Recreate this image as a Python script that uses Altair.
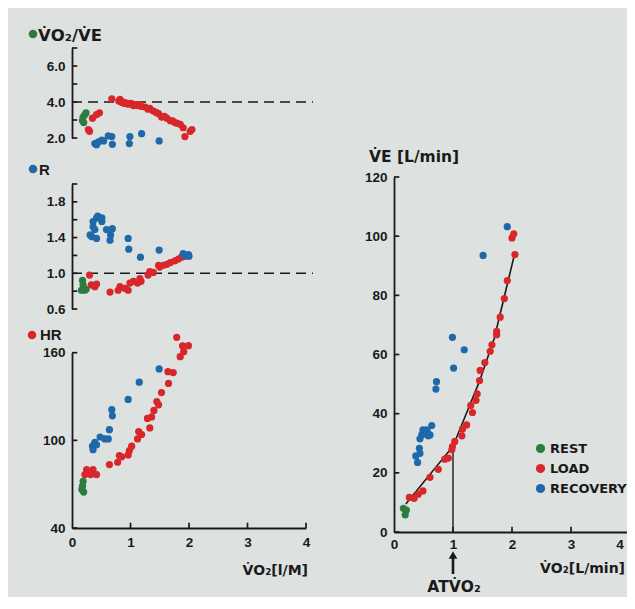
import altair as alt
import pandas as pd

# ---------------- data ----------------
phases = ["REST", "LOAD", "RECOVERY"]
phase_colors = ["#2b7d3f", "#d8272b", "#1f69aa"]

# VO2/VE panel
vv_rest_x = [0.18, 0.19, 0.20, 0.22, 0.24]
vv_rest_y = [2.96, 3.16, 2.86, 3.30, 3.40]
vv_load_x = [0.28, 0.30, 0.35, 0.42, 0.47, 0.68, 0.80, 0.82, 0.85, 0.88, 0.90, 0.93, 0.96, 1.00,
             1.02, 1.05, 1.08, 1.12, 1.16, 1.19, 1.25, 1.30, 1.33, 1.39, 1.44, 1.48, 1.53, 1.58,
             1.62, 1.68, 1.72, 1.76, 1.80, 1.85, 1.90, 1.93, 2.02, 2.05]
vv_load_y = [2.47, 2.37, 3.10, 3.30, 3.40, 4.18, 4.05, 4.14, 3.98, 4.00, 3.92, 3.94, 3.88, 3.92,
             3.90, 3.80, 3.85, 3.80, 3.85, 3.75, 3.72, 3.60, 3.65, 3.50, 3.42, 3.35, 3.16, 3.20,
             3.10, 2.96, 2.95, 2.86, 2.82, 2.76, 2.57, 2.08, 2.37, 2.47]
vv_rec_x = [0.39, 0.42, 0.45, 0.51, 0.54, 0.62, 0.68, 0.69, 0.98, 0.99, 1.19, 1.49]
vv_rec_y = [1.69, 1.63, 1.78, 1.88, 1.84, 2.12, 2.08, 1.65, 1.69, 2.08, 2.24, 1.84]
vv_ref = 4.0

# R panel
r_rest_x = [0.16, 0.18, 0.19, 0.22, 0.24]
r_rest_y = [0.81, 0.92, 0.87, 0.81, 0.82]
r_load_x = [0.30, 0.33, 0.39, 0.42, 0.65, 0.79, 0.82, 0.91, 0.96, 0.99, 1.05, 1.12, 1.16, 1.18,
            1.30, 1.33, 1.39, 1.48, 1.50, 1.56, 1.62, 1.68, 1.76, 1.82, 1.87, 1.93]
r_load_y = [0.98, 0.87, 0.85, 0.88, 0.79, 0.81, 0.85, 0.83, 0.81, 0.89, 0.91, 0.89, 0.94, 0.91,
            0.98, 1.02, 1.01, 1.09, 1.07, 1.09, 1.10, 1.12, 1.14, 1.16, 1.18, 1.19]
r_rec_x = [0.31, 0.34, 0.36, 0.36, 0.39, 0.42, 0.42, 0.44, 0.51, 0.51, 0.59, 0.65, 0.66, 0.69,
           0.96, 0.97, 1.17, 1.49, 1.90, 1.92, 1.99, 2.00]
r_rec_y = [1.43, 1.41, 1.52, 1.58, 1.49, 1.62, 1.39, 1.64, 1.62, 1.58, 1.49, 1.37, 1.43, 1.50,
           1.39, 1.27, 1.18, 1.26, 1.22, 1.20, 1.21, 1.19]
r_ref = 1.0

# HR panel
hr_rest_x = [0.17, 0.18, 0.19, 0.20]
hr_rest_y = [66.4, 68.6, 72.0, 64.6]
hr_load_x = [0.22, 0.25, 0.32, 0.36, 0.42, 0.64, 0.78, 0.81, 0.85, 0.96, 0.98, 1.02, 1.12, 1.14,
             1.19, 1.29, 1.33, 1.36, 1.40, 1.45, 1.48, 1.53, 1.64, 1.65, 1.73, 1.79, 1.85, 1.89,
             1.91, 1.99]
hr_load_y = [76.6, 80.0, 76.6, 80.0, 76.6, 83.4, 85.0, 89.6, 88.7, 90.0, 93.0, 96.0, 101.0, 106.0,
             104.0, 115.0, 108.5, 116.0, 120.5, 126.6, 124.3, 132.7, 147.0, 139.0, 146.4, 170.5,
             157.3, 164.6, 160.7, 164.8]
hr_rec_x = [0.35, 0.36, 0.39, 0.42, 0.48, 0.56, 0.62, 0.64, 0.68, 0.69, 0.96, 1.15, 1.49]
hr_rec_y = [96.0, 93.6, 98.6, 97.0, 102.3, 101.0, 101.0, 107.3, 121.0, 116.8, 128.0, 139.8, 148.9]

# VE vs VO2 panel
ve_rest_x = [0.16, 0.19, 0.21]
ve_rest_y = [8.0, 5.8, 7.4]
ve_load_x = [0.26, 0.34, 0.41, 0.49, 0.61, 0.75, 0.86, 0.92, 0.98, 0.99, 1.03, 1.15, 1.16, 1.23,
             1.30, 1.33, 1.39, 1.41, 1.45, 1.46, 1.54, 1.63, 1.66, 1.74, 1.74, 1.80, 1.87, 1.92,
             2.00, 2.03, 2.05]
ve_load_y = [11.7, 11.4, 12.8, 13.9, 18.5, 21.2, 24.6, 25.0, 27.8, 28.9, 30.6, 32.5, 34.8, 36.2,
             42.8, 40.4, 44.5, 46.7, 51.2, 54.6, 57.3, 61.1, 63.3, 66.7, 67.8, 72.6, 78.9, 85.0,
             99.4, 100.8, 93.8]
ve_rec_x = [0.37, 0.40, 0.43, 0.44, 0.44, 0.47, 0.49, 0.50, 0.55, 0.56, 0.58, 0.61, 0.64, 0.71,
            0.72, 1.01, 0.99, 1.19, 1.51, 1.92]
ve_rec_y = [25.7, 23.5, 28.3, 26.6, 31.5, 32.8, 34.5, 34.0, 34.5, 34.3, 32.5, 32.8, 36.0, 48.3,
            50.8, 55.4, 65.8, 61.6, 93.5, 103.2]
fit_x = [0.2, 1.0, 1.45, 1.7, 2.05]
fit_y = [9.5, 29.0, 51.0, 65.5, 94.5]
at_x = 1.0
at_y = 29.0

# axis ticks / labels
x_label_vals = [0, 1, 2, 3, 4]
x_tick_vals = [1, 2, 3, 4]
ve_x_label_vals = [0, 1, 2, 3]
ve_x_edge_label = "4"
vv_label_vals = [2, 4, 6]
vv_tick_vals = [2, 3, 4, 5, 6, 7]
r_label_vals = [0.6, 1.0, 1.4, 1.8]
r_tick_vals = [0.6, 0.8, 1.0, 1.2, 1.4, 1.6, 1.8, 2.0]
hr_label_vals = [40, 100, 160]
ve_label_vals = [0, 20, 40, 60, 80, 100, 120]

# ---------------- styling ----------------
FONT = "Liberation Sans"
TFONT = "DejaVu Sans"
INK = "#1a1a1a"
BG = "#dde2e0"
W, H = 619, 589

XL = alt.Scale(domain=[0, 4], range=[64, 298], nice=False, zero=False)
XR = alt.Scale(domain=[0, 4], range=[386, 622], nice=False, zero=False)
Y_VV = alt.Scale(domain=[2, 7], range=[130, 40], nice=False, zero=False)
Y_R = alt.Scale(domain=[0.6, 2.0], range=[301, 176], nice=False, zero=False)
Y_HR = alt.Scale(domain=[40, 160], range=[520, 344.7], nice=False, zero=False)
Y_VE = alt.Scale(domain=[0, 120], range=[524, 169], nice=False, zero=False)

COLOR_SCALE = alt.Scale(domain=phases, range=phase_colors)
LEG = alt.Legend(orient="none", legendX=526, legendY=434, title=None, labelFont=TFONT,
                 labelFontSize=13, labelFontWeight="bold", labelColor=INK, symbolType="circle",
                 symbolSize=85, symbolStrokeWidth=0, rowPadding=6, labelOffset=3, padding=0)


def frame(rx, ry, lx, ly, cx, cy):
    rows = []
    for name, xs, ys in (("REST", rx, ry), ("LOAD", lx, ly), ("RECOVERY", cx, cy)):
        rows += [{"x": a, "y": b, "phase": name} for a, b in zip(xs, ys)]
    return pd.DataFrame(rows)


def yaxis(vals, fmt, off):
    return alt.Axis(orient="left", offset=off, values=vals, format=fmt, ticks=False, tickSize=0,
                    grid=False, title=None, domainColor=INK, domainWidth=1.8, labelFont=FONT,
                    labelFontSize=13.5, labelFontWeight="bold", labelColor=INK, labelPadding=7,
                    labelOverlap=False, labelFlush=False, labelBound=False)


def xaxis(vals, off, pad):
    return alt.Axis(orient="bottom", offset=off, values=vals, format="d", ticks=False, tickSize=0,
                    grid=False, title=None, domainColor=INK, domainWidth=1.8, labelFont=FONT,
                    labelFontSize=13.5, labelFontWeight="bold", labelColor=INK, labelPadding=pad,
                    labelOverlap=False, labelFlush=False, labelBound=False)


def points(df, xs, ys, xax=None, yax=None):
    return alt.Chart(df).mark_circle(size=52, opacity=1).encode(
        x=alt.X("x:Q", scale=xs, axis=xax),
        y=alt.Y("y:Q", scale=ys, axis=yax),
        color=alt.Color("phase:N", scale=COLOR_SCALE, legend=LEG),
    )


def yticks(vals, xs, ys, length):
    return alt.Chart(pd.DataFrame({"v": vals})).mark_rule(color=INK, strokeWidth=1.7).encode(
        y=alt.Y("v:Q", scale=ys, axis=None),
        x=alt.XDatum(0, type="quantitative", scale=xs, axis=None),
        x2=alt.X2Datum(length),
    )


def xticks(vals, xs, ys, base, length):
    return alt.Chart(pd.DataFrame({"v": vals})).mark_rule(color=INK, strokeWidth=1.7).encode(
        x=alt.X("v:Q", scale=xs, axis=None),
        y=alt.YDatum(base, type="quantitative", scale=ys, axis=None),
        y2=alt.Y2Datum(base + length),
    )


def dashed(v, xs, ys, x_end):
    return alt.Chart(pd.DataFrame({"v": [v]})).mark_rule(
        color=INK, strokeWidth=1.5, strokeDash=[10, 6]).encode(
        y=alt.Y("v:Q", scale=ys, axis=None),
        x=alt.XDatum(0, type="quantitative", scale=xs, axis=None),
        x2=alt.X2Datum(x_end),
    )


def label(txt, x, y, size=15, align="left", font=TFONT):
    return alt.Chart(pd.DataFrame({"t": [txt]})).mark_text(
        align=align, baseline="middle", fontSize=size, fontWeight="bold", font=font, color=INK
    ).encode(x=alt.value(x), y=alt.value(y), text="t:N")


def dot(color, x, y):
    return alt.Chart(pd.DataFrame({"a": [0]})).mark_circle(size=75, opacity=1, color=color).encode(
        x=alt.value(x), y=alt.value(y))


df_vv = frame(vv_rest_x, vv_rest_y, vv_load_x, vv_load_y, vv_rec_x, vv_rec_y)
df_r = frame(r_rest_x, r_rest_y, r_load_x, r_load_y, r_rec_x, r_rec_y)
df_hr = frame(hr_rest_x, hr_rest_y, hr_load_x, hr_load_y, hr_rec_x, hr_rec_y)
df_ve = frame(ve_rest_x, ve_rest_y, ve_load_x, ve_load_y, ve_rec_x, ve_rec_y)

layers = [
    # VO2/VE panel
    dashed(vv_ref, XL, Y_VV, 4.12),
    yticks(vv_tick_vals, XL, Y_VV, 0.09),
    points(df_vv, XL, Y_VV, yax=yaxis(vv_label_vals, ".1f", -64)),
    # R panel
    dashed(r_ref, XL, Y_R, 4.12),
    yticks(r_tick_vals, XL, Y_R, 0.09),
    points(df_r, XL, Y_R, yax=yaxis(r_label_vals, ".1f", -64)),
    # HR panel
    yticks(hr_label_vals, XL, Y_HR, 0.09),
    xticks(x_tick_vals, XL, Y_HR, 40, 3.6),
    points(df_hr, XL, Y_HR, xax=xaxis(x_label_vals, -(H - 520), 7),
           yax=yaxis(hr_label_vals, "d", -64)),
    # VE panel
    yticks(ve_label_vals, XR, Y_VE, 0.09),
    xticks(x_tick_vals, XR, Y_VE, 0, 1.8),
    alt.Chart(pd.DataFrame({"x": fit_x, "y": fit_y})).mark_line(color=INK, strokeWidth=1.6).encode(
        x=alt.X("x:Q", scale=XR, axis=None), y=alt.Y("y:Q", scale=Y_VE, axis=None)),
    alt.Chart(pd.DataFrame({"x": [at_x], "y": [at_y]})).mark_rule(color=INK, strokeWidth=1.4).encode(
        x=alt.X("x:Q", scale=XR, axis=None), y=alt.Y("y:Q", scale=Y_VE, axis=None),
        y2=alt.Y2Datum(0)),
    points(df_ve, XR, Y_VE, xax=xaxis(ve_x_label_vals, -(H - 524), 5),
           yax=yaxis(ve_label_vals, "d", -386)),
    # last tick label of the right x axis, kept just inside the page edge
    label(ve_x_edge_label, 612, 537, 13.5, "center", font=FONT),
    # AT arrow
    alt.Chart(pd.DataFrame({"x": [at_x]})).mark_rule(color=INK, strokeWidth=2.6).encode(
        x=alt.X("x:Q", scale=XR, axis=None), y=alt.value(549), y2=alt.value(566)),
    alt.Chart(pd.DataFrame({"x": [at_x]})).mark_point(
        shape="triangle-up", filled=True, size=75, color=INK, opacity=1).encode(
        x=alt.X("x:Q", scale=XR, axis=None), y=alt.value(547)),
    # titles
    dot("#2b7d3f", 25, 26), label("V\u0307O\u2082/V\u0307E", 30, 28, 16.5),
    dot("#1f69aa", 25, 161), label("R", 31, 162, 15, font=FONT),
    dot("#d8272b", 24, 327), label("HR", 32, 327, 15, font=FONT),
    label("V\u0307E [L/min]", 361, 149, 15.5),
    label("V\u0307O\u2082[l/M]", 300, 563, 14, "right"),
    label("V\u0307O\u2082[L/min]", 617, 561, 14, "right"),
    label("ATV\u0307O\u2082", 446, 579, 15.5, "center"),
]

chart = alt.layer(*layers).resolve_scale(
    x="independent", y="independent"
).resolve_axis(
    x="independent", y="independent"
).properties(
    width=W, height=H, autosize=alt.AutoSizeParams(type="none"), padding=0, background=BG
).configure_view(stroke=None)

chart.save("out.html", embed_options={"renderer": "svg", "actions": False})
